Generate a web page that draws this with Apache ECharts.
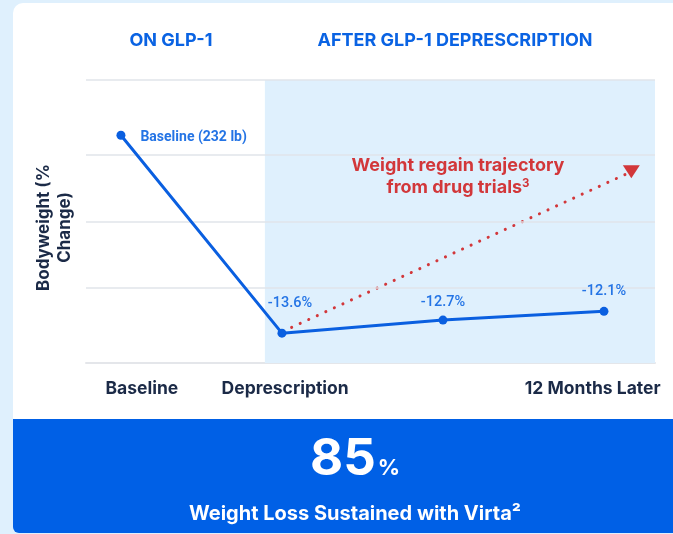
<!DOCTYPE html>
<html><head><meta charset="utf-8">
<style>
html,body{margin:0;padding:0;background:#dff0fd;overflow:hidden;}
#card{position:absolute;left:13px;top:3px;width:680px;height:430px;background:#fff;border-radius:10px 0 0 0;}
#panel{position:absolute;left:13px;top:419px;width:680px;height:114px;background:#0060e6;border-radius:0 0 0 6px;}
#c{position:absolute;left:0;top:0;width:673px;height:534px;}
</style>
<script src="https://cdn.jsdelivr.net/npm/echarts@6/dist/echarts.min.js"></script>
</head><body>
<div id="card"></div><div id="panel"></div>
<div id="c"></div>
<script>
// ---- data ----
const categories = ['Baseline', 'Deprescription', '6 Months', '12 Months Later'];
const categoryPos = [0, 1, 2, 3];
const weightChange = [0, -13.6, -12.7, -12.1];
const pointLabels = ['Baseline (232 lb)', '-13.6%', '-12.7%', '-12.1%'];
const xTickLabels = ['Baseline', 'Deprescription', '12 Months Later'];
const xTickValues = [0.13, 1.02, 2.93];
const gridValues = [3.8, -1.35, -5.96, -10.5];
const regainX = [1.06, 3.17];
const regainY = [-13.2, -2.5];
const phaseLabels = ['ON GLP-1', 'AFTER GLP-1 DEPRESCRIPTION'];
const phaseBoundary = 0.894;
const axisX = [-0.217, 3.317];
const axisY = [-15.65, 3.8];
const headline = '85';
const subline = 'Weight Loss Sustained with Virta²';
const regainNote = ['Weight regain trajectory', 'from drug trials'];

// ---- styles ----
const BLUE = '#0a5fe0';
const LBL = '#2474e5';
const RED = '#d2373a';
const NAVY = '#1b2a47';
const FONT = 'Inter, "Noto Sans", sans-serif';
const labelStyles = [
  {position: 'right', distance: 15, offset: [0, 2], fontWeight: 700, fontSize: 14},
  {position: 'top', distance: 18, offset: [8, 0], fontWeight: 500, fontSize: 14.5},
  {position: 'top', distance: 6, offset: [0, 0], fontWeight: 500, fontSize: 14.5},
  {position: 'top', distance: 8, offset: [0, 0], fontWeight: 500, fontSize: 14.5}
];

const chart = echarts.init(document.getElementById('c'), null, {renderer: 'canvas'});

const mainData = weightChange.map((v, i) => ({
  value: [categoryPos[i], v],
  label: Object.assign({
    show: true,
    formatter: pointLabels[i],
    color: LBL,
    fontFamily: 'Roboto, sans-serif'
  }, labelStyles[i])
}));

const regainData = regainX.map((x, i) => [x, regainY[i]]);

chart.setOption({
  backgroundColor: 'transparent',
  animation: false,
  grid: {left: 86, right: 18, top: 80, bottom: 171},
  xAxis: {
    type: 'value', min: axisX[0], max: axisX[1],
    splitLine: {show: false},
    axisTick: {show: false},
    axisLine: {show: true, onZero: false, lineStyle: {color: '#e4e6ea', width: 2}},
    axisLabel: {
      show: true,
      customValues: xTickValues,
      formatter: (v) => {
        const i = xTickValues.findIndex(t => Math.abs(t - v) < 1e-6);
        return i >= 0 ? xTickLabels[i] : '';
      },
      margin: 17,
      color: NAVY, fontFamily: FONT, fontWeight: 700, fontSize: 17.5
    }
  },
  yAxis: {
    type: 'value', min: axisY[0], max: axisY[1],
    splitLine: {show: false},
    axisLine: {show: false}, axisTick: {show: false}, axisLabel: {show: false},
    name: 'Bodyweight (%\nChange)',
    nameLocation: 'middle', nameRotate: 90, nameGap: 11,
    nameTextStyle: {color: NAVY, fontFamily: FONT, fontWeight: 700, fontSize: 17, lineHeight: 21, align: 'center', padding: [0, 12, 0, 0]}
  },
  graphic: [
    {type: 'text', x: 171, y: 41, z: 100, style: {text: phaseLabels[0], fill: '#0a63e3', font: '700 18px ' + FONT, align: 'center', verticalAlign: 'middle'}},
    {type: 'text', x: 455, y: 41, z: 100, style: {text: phaseLabels[1], fill: '#0a63e3', font: '700 18px ' + FONT, align: 'center', verticalAlign: 'middle'}},
    {type: 'text', x: 458, y: 177, z: 100, style: {
      text: '{a|' + regainNote[0] + '}\n{a|' + regainNote[1] + '}{s|3}',
      align: 'center', verticalAlign: 'middle',
      rich: {
        a: {fill: RED, font: '700 18px ' + FONT, lineHeight: 22},
        s: {fill: RED, font: '700 11.5px ' + FONT, lineHeight: 22, padding: [0, 0, 8, 0]}
      }
    }},
    {type: 'text', x: 355, y: 460, z: 100, style: {
      text: '{b|' + headline + '}{p|%}', align: 'center', verticalAlign: 'middle',
      rich: {
        b: {fill: '#fff', font: '700 51px ' + FONT, lineHeight: 54},
        p: {fill: '#fff', font: '700 22px ' + FONT, lineHeight: 54, padding: [16, 0, 0, 2]}
      }
    }},
    {type: 'text', x: 355, y: 514, z: 100, style: {
      text: subline, align: 'center', verticalAlign: 'middle',
      fill: '#fff', font: '700 20px ' + FONT
    }}
  ],
  series: [
    {
      type: 'line', data: [], z: 1, silent: true,
      markArea: {
        silent: true,
        itemStyle: {color: '#dff0fd'},
        data: [[{xAxis: phaseBoundary}, {xAxis: axisX[1]}]]
      }
    },
    {
      type: 'line', data: [], z: 2, silent: true,
      markLine: {
        silent: true, symbol: 'none', label: {show: false},
        lineStyle: {type: 'solid', color: '#e1e4ea', width: 1.5},
        data: gridValues.map(v => ({yAxis: v}))
      }
    },
    {
      type: 'line', z: 4, data: regainData,
      lineStyle: {color: RED, width: 3, type: [0.1, 9.3], cap: 'round'},
      symbol: (val, p) => p.dataIndex === regainData.length - 1 ? 'triangle' : 'none',
      symbolSize: [17, 13], symbolRotate: 180,
      itemStyle: {color: RED},
      silent: true
    },
    {
      type: 'line', z: 5, data: mainData,
      lineStyle: {color: BLUE, width: 3},
      symbol: 'circle', symbolSize: 9,
      itemStyle: {color: BLUE},
      silent: true
    }
  ]
});
</script>
</body></html>
